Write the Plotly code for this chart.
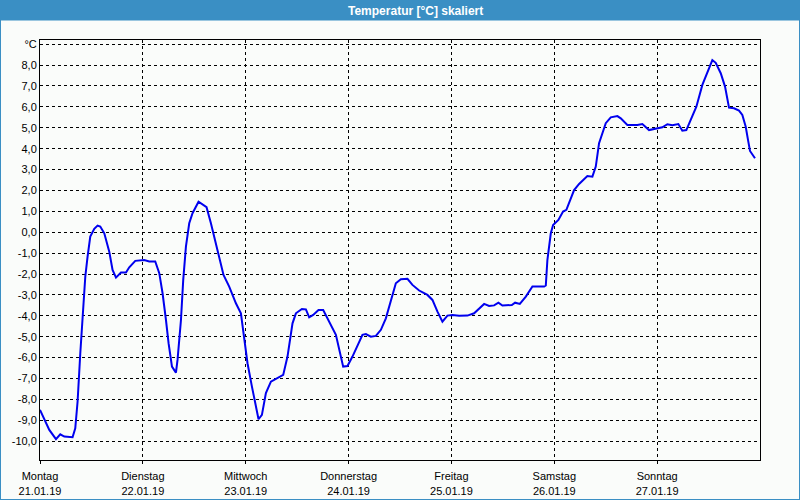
import plotly.graph_objects as go

# Time in hours since Monday 21.01.19 00:00, temperature in °C
hours = [0, 2.17, 3.73, 4.73, 5.67, 7.60, 8.23, 8.77, 9.40, 9.94, 10.57, 11.10, 11.73, 12.66,
         13.43, 14.06, 15.0, 16.16, 16.93, 17.73, 18.89, 20.06, 20.83, 22.23, 24.32, 25.49,
         26.89, 27.83, 28.60, 29.39, 30.0, 30.79, 31.72, 32.09, 32.89, 33.42, 34.05, 34.82,
         35.59, 36.99, 37.78, 38.86, 39.88, 41.05, 42.22, 42.82, 44.15, 45.71, 46.88, 47.65,
         48.42, 49.45, 50.99, 51.78, 52.71, 53.88, 55.42, 56.75, 57.75, 58.92, 59.71, 61.11,
         62.04, 62.81, 63.74, 64.98, 66.08, 67.87, 69.04, 70.74, 71.74, 72.91, 74.08, 75.24,
         76.04, 77.20, 78.37, 79.54, 80.70, 82.10, 83.03, 84.20, 85.74, 86.90, 88.47, 90.40,
         91.57, 92.74, 93.90, 95.07, 96.24, 97.80, 99.73, 101.30, 103.63, 104.79, 105.96,
         106.96, 107.90, 110.09, 110.86, 111.96, 113.36, 114.90, 117.63, 118.02, 118.39,
         119.19, 119.72, 120.96, 122.05, 122.82, 123.62, 124.62, 125.79, 127.72, 128.89,
         129.68, 130.45, 131.22, 132.01, 133.18, 134.72, 135.51, 137.05, 139.38, 140.55,
         142.11, 143.28, 144.05, 145.22, 146.38, 147.55, 148.95, 149.88, 150.81, 152.07,
         153.15, 154.55, 155.95, 156.88, 157.67, 158.84, 159.84, 160.77, 161.94, 163.10,
         163.88, 164.67, 165.20, 165.67, 166.83]
temps = [-8.5, -9.46, -9.9, -9.67, -9.78, -9.81, -9.38, -8.1, -5.79, -3.88, -2.12, -1.17, -0.21, 0.16,
         0.32, 0.27, -0.05, -0.93, -1.8, -2.17, -1.93, -1.93, -1.68, -1.37, -1.33, -1.4,
         -1.4, -1.96, -2.92, -4.2, -5.31, -6.43, -6.72, -6.11, -4.2, -2.28, -0.69, 0.43,
         0.91, 1.46, 1.35, 1.2, 0.43, -0.53, -1.56, -2.04, -2.6, -3.4, -3.88, -5.0,
         -6.27, -7.39, -8.95, -8.74, -7.7, -7.15, -6.99, -6.83, -5.95, -4.36, -3.88, -3.67,
         -3.69, -4.07, -3.96, -3.72, -3.72, -4.44, -4.91, -6.43, -6.4, -5.95, -5.39, -4.91,
         -4.87, -5.0, -4.96, -4.67, -4.12, -3.08, -2.44, -2.25, -2.23, -2.52, -2.79, -3.0,
         -3.24, -3.8, -4.28, -3.99, -3.96, -4.0, -3.99, -3.88, -3.43, -3.53, -3.5,
         -3.37, -3.51, -3.48, -3.37, -3.43, -3.08, -2.6, -2.6, -2.55, -1.33,
         -0.05, 0.35, 0.59, 0.99, 1.07, 1.46, 2.02, 2.31, 2.69, 2.66,
         3.14, 4.26, 4.74, 5.22, 5.5, 5.56, 5.45, 5.13, 5.13, 5.18,
         4.89, 4.93, 4.98, 5.02, 5.17, 5.12, 5.18, 4.86, 4.89, 5.45,
         6.01, 7.05, 7.8, 8.24, 8.11, 7.61, 6.97, 5.96, 5.93, 5.82,
         5.61, 5.05, 4.42, 3.89, 3.54]

day_ticks = [0, 24, 48, 72, 96, 120, 144]
day_labels = ["Montag<br>21.01.19", "Dienstag<br>22.01.19", "Mittwoch<br>23.01.19",
              "Donnerstag<br>24.01.19", "Freitag<br>25.01.19", "Samstag<br>26.01.19",
              "Sonntag<br>27.01.19"]
y_ticks = [-10, -9, -8, -7, -6, -5, -4, -3, -2, -1, 0, 1, 2, 3, 4, 5, 6, 7, 8, 9]
y_labels = ["-10,0", "-9,0", "-8,0", "-7,0", "-6,0", "-5,0", "-4,0", "-3,0", "-2,0", "-1,0",
            "0,0", "1,0", "2,0", "3,0", "4,0", "5,0", "6,0", "7,0", "8,0", "°C"]
title_text = "Temperatur [°C] skaliert"

FONT = "Liberation Sans, Arial, sans-serif"
BLUE_FRAME = "#3a8fc4"

fig = go.Figure()
fig.add_trace(go.Scatter(x=hours, y=temps, mode="lines",
                         line=dict(color="#0000ee", width=2), hoverinfo="skip"))

W, H = 800, 500
ml, mr, mt, mb = 40, 40, 40, 40
pw, ph = W - ml - mr, H - mt - mb


def px(x):
    return (x - ml) / pw


def py(y):
    return (H - mb - y) / ph


shapes = [
    # title bar
    dict(type="rect", xref="paper", yref="paper", x0=px(0), x1=px(W), y0=py(20.5), y1=py(0),
         fillcolor=BLUE_FRAME, line=dict(width=0), layer="below"),
    # window border
    dict(type="line", xref="paper", yref="paper", x0=px(0.5), x1=px(0.5), y0=py(499.5), y1=py(20),
         line=dict(color=BLUE_FRAME, width=1)),
    dict(type="line", xref="paper", yref="paper", x0=px(799.5), x1=px(799.5), y0=py(499.5), y1=py(20),
         line=dict(color=BLUE_FRAME, width=1)),
    dict(type="line", xref="paper", yref="paper", x0=px(0), x1=px(800), y0=py(499.5), y1=py(499.5),
         line=dict(color=BLUE_FRAME, width=1)),
]

fig.update_layout(
    width=W, height=H,
    margin=dict(l=ml, r=mr, t=mt, b=mb, autoexpand=False),
    paper_bgcolor="#fafcfa", plot_bgcolor="#fafcfa",
    showlegend=False,
    font=dict(family=FONT, size=11, color="#000000"),
    shapes=shapes,
    annotations=[dict(text="<b>" + title_text + "</b>", xref="paper", yref="paper",
                      x=px(415), y=py(10.5), xanchor="center", yanchor="middle", showarrow=False,
                      font=dict(family=FONT, size=12, color="#ffffff"))],
    xaxis=dict(range=[0, 168], tickvals=day_ticks, ticktext=day_labels,
               showgrid=True, gridcolor="#000000", gridwidth=1, griddash="3px,3px",
               showline=True, linecolor="#000000", linewidth=1, mirror=True,
               ticks="outside", ticklen=3, tickcolor="#000000", zeroline=False,
               automargin=False, ticklabelstandoff=3,
               tickfont=dict(family=FONT, size=11, color="#000000")),
    yaxis=dict(range=[-10.9, 9.2], tickvals=y_ticks, ticktext=y_labels,
               showgrid=True, gridcolor="#000000", gridwidth=1, griddash="3px,3px",
               showline=True, linecolor="#000000", linewidth=1, mirror=True,
               ticks="", zeroline=False, automargin=False,
               tickfont=dict(family=FONT, size=11, color="#000000")),
)

fig.write_html("out.html")
